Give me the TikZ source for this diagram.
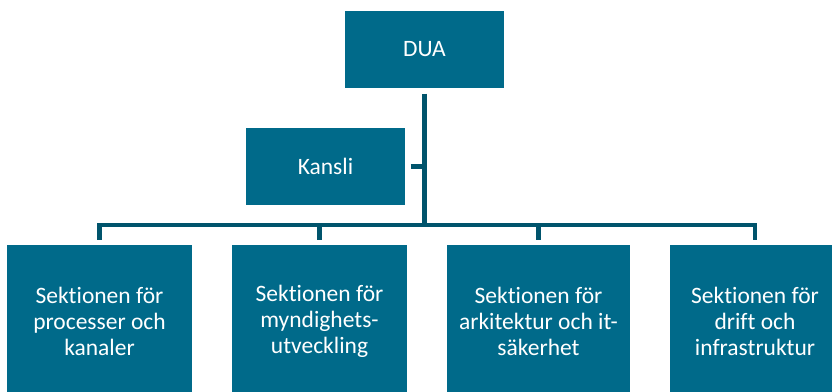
\documentclass[tikz,border=0pt]{standalone}
\usepackage{fontspec}
\setmainfont{Carlito}[Ligatures=NoCommon]
\definecolor{boxblue}{RGB}{0,106,138}
\definecolor{linkblue}{RGB}{0,84,108}
\begin{document}
\begin{tikzpicture}[x=1pt, y=-1pt,
	unit/.style={rectangle, fill=boxblue, text=white, align=center, inner sep=0pt, outer sep=5.5pt, font=\fontsize{23.5}{26}\selectfont},
	link/.style={draw=linkblue, line width=4.6pt}]
			\clip (0,0) rectangle (832,391);
			\node[unit, minimum width=159, minimum height=77] at (424.5,49.5) (dua) {DUA};
			\node[unit, minimum width=159, minimum height=77] at (325.5,166.5) (kansli) {Kansli};
			\node[unit, minimum width=185, minimum height=152] at (99.5,321) (s1) {Sektionen för\\processer och\\kanaler};
			\node[unit, minimum width=175, minimum height=152] at (319.5,321) (s2) {Sektionen för\\myndighets-\\utveckling};
			\node[unit, minimum width=183, minimum height=152] at (538.5,321) (s3) {Sektionen för\\arkitektur och it-\\säkerhet};
			\node[unit, minimum width=170, minimum height=152] at (755,321) (s4) {Sektionen för\\drift och\\infrastruktur};
			\coordinate (bar) at (424.5,225);
			\draw[link]
			(dua.south)--(bar) (kansli.east)--(kansli.east -| bar)
			(s1.north)|-(bar)-|(s4.north) (s2.north)--(s2.north |- bar) (s3.north)--(s3.north |- bar);
		\end{tikzpicture}
\end{document}
